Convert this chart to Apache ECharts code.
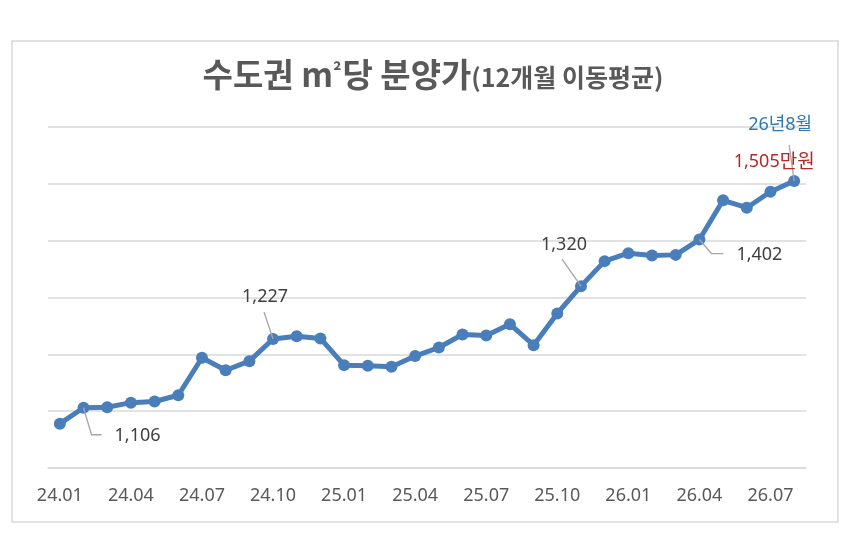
<!DOCTYPE html>
<html>
<head>
<meta charset="utf-8">
<script src="https://cdn.jsdelivr.net/npm/echarts@6/dist/echarts.min.js"></script>
<style>
html, body { margin: 0; padding: 0; background: #fff; }
#chart { width: 866px; height: 541px; }
</style>
</head>
<body>
<div id="chart"></div>
<script>
var months = ['24.01','24.02','24.03','24.04','24.05','24.06','24.07','24.08','24.09','24.10','24.11','24.12',
              '25.01','25.02','25.03','25.04','25.05','25.06','25.07','25.08','25.09','25.10','25.11','25.12',
              '26.01','26.02','26.03','26.04','26.05','26.06','26.07','26.08'];
var prices = [1078, 1106, 1107, 1115, 1117, 1128, 1194, 1172, 1188, 1227, 1232, 1228,
              1181, 1180, 1178, 1197, 1212, 1235, 1233, 1253, 1216, 1272, 1320, 1364,
              1378, 1374, 1375, 1402, 1471, 1458, 1486, 1505];
var yTicks = [1000, 1100, 1200, 1300, 1400, 1500, 1600];
var calloutIdx = [1, 9, 22, 27, 31];
var lastMonthText = '26년8월';
var unitText = '만원';

var numFont = '18px "Noto Sans", "Noto Sans CJK KR", sans-serif';
var leaderColor = '#a6a6a6';

function fmt(v) {
    return v.toLocaleString('en-US');
}

/*callout layout: leader bend points and label anchor, relative to the point*/
var calloutStyle = [
    { leader: [[8, 27], [18, 27]], tx: 31, ty: 28, align: 'left' },
    { leader: [[-9, -27]], tx: -8, ty: -42, align: 'center' },
    { leader: [[-19, -27]], tx: -17, ty: -41, align: 'center' },
    { leader: [[12, 14], [24, 14]], tx: 37, ty: 15, align: 'left' },
    { leader: [[-5, -36]], tx: -20, ty: -20, align: 'center' }
];

var calloutData = [];
for (var i = 0; i < calloutIdx.length; i++) {
    calloutData.push([calloutIdx[i], prices[calloutIdx[i]], i]);
}

function renderCallout(params, api) {
    var p = api.coord([api.value(0), api.value(1)]);
    var k = api.value(2);
    var s = calloutStyle[k];
    var pts = [[p[0], p[1]]];
    for (var j = 0; j < s.leader.length; j++) {
        pts.push([p[0] + s.leader[j][0], p[1] + s.leader[j][1]]);
    }
    var children = [{
        type: 'polyline',
        shape: { points: pts },
        style: { stroke: leaderColor, lineWidth: 1.3, fill: null },
        z2: 1
    }];
    var v = fmt(api.value(1));
    if (k === calloutIdx.length - 1) {
        children.push({
            type: 'text',
            style: {
                text: '{n|' + v + '}{u|' + unitText + '}',
                x: p[0] + s.tx, y: p[1] + s.ty,
                align: 'center', verticalAlign: 'middle',
                rich: {
                    n: { fontSize: 18, fontFamily: '"Noto Sans", sans-serif', fill: '#b02a28', verticalAlign: 'bottom' },
                    u: { fontSize: 19, fontFamily: '"Noto Sans CJK KR"', fill: '#b02a28', verticalAlign: 'bottom' }
                }
            },
            z2: 3
        });
        children.push({
            type: 'text',
            style: {
                text: lastMonthText,
                x: p[0] - 14, y: p[1] - 56,
                align: 'center', verticalAlign: 'middle',
                font: numFont, fill: '#2e78b4'
            },
            z2: 3
        });
    } else {
        children.push({
            type: 'text',
            style: {
                text: v,
                x: p[0] + s.tx, y: p[1] + s.ty,
                align: s.align, verticalAlign: 'middle',
                font: numFont, fill: '#404040'
            },
            z2: 3
        });
    }
    return { type: 'group', children: children };
}

var myChart = echarts.init(document.getElementById('chart'));
var option = {
    backgroundColor: '#fff',
    animation: false,
    graphic: [{
        type: 'rect',
        shape: { x: 12, y: 41, width: 826, height: 481 },
        style: { fill: null, stroke: '#d9d9d9', lineWidth: 1.5 },
        silent: true
    }],
    title: {
        text: '{a|수도권 m}{s|²}{a|당 분양가}{b|(12개월 이동평균)}',
        left: 'center',
        top: 44,
        textStyle: {
            rich: {
                a: { fontSize: 33, fontWeight: 'bold', color: '#595959', fontFamily: '"Noto Sans CJK KR"', verticalAlign: 'bottom', lineHeight: 42 },
                s: { fontSize: 20, fontWeight: 'bold', color: '#595959', fontFamily: '"Noto Sans CJK KR"', verticalAlign: 'bottom', lineHeight: 42, padding: [0, 1, 10, 0] },
                b: { fontSize: 25, fontWeight: 'bold', color: '#595959', fontFamily: '"Noto Sans CJK KR"', verticalAlign: 'bottom', lineHeight: 42, padding: [0, 0, 1, 0] }
            }
        }
    },
    grid: { left: 48, right: 60, top: 127, bottom: 73, containLabel: false },
    xAxis: {
        type: 'category',
        data: months,
        boundaryGap: true,
        axisLine: { lineStyle: { color: '#d9d9d9', width: 1.5 } },
        axisTick: { show: false },
        axisLabel: {
            interval: 2,
            color: '#595959',
            fontSize: 18,
            fontFamily: '"Noto Sans", sans-serif',
            margin: 19
        }
    },
    yAxis: {
        type: 'value',
        min: yTicks[0],
        max: yTicks[yTicks.length - 1],
        interval: yTicks[1] - yTicks[0],
        axisLabel: { show: false },
        axisLine: { show: false },
        axisTick: { show: false },
        splitLine: { lineStyle: { color: '#d9d9d9', width: 1.5 } }
    },
    series: [
        {
            name: '분양가',
            type: 'line',
            data: prices,
            symbol: 'circle',
            symbolSize: 12,
            lineStyle: { color: '#4a7ebb', width: 5 },
            itemStyle: { color: '#4a7ebb' },
            z: 2
        },
        {
            type: 'custom',
            data: calloutData,
            encode: { x: 0, y: 1 },
            renderItem: renderCallout,
            clip: false,
            silent: true,
            z: 3
        }
    ]
};
myChart.setOption(option);
</script>
</body>
</html>
